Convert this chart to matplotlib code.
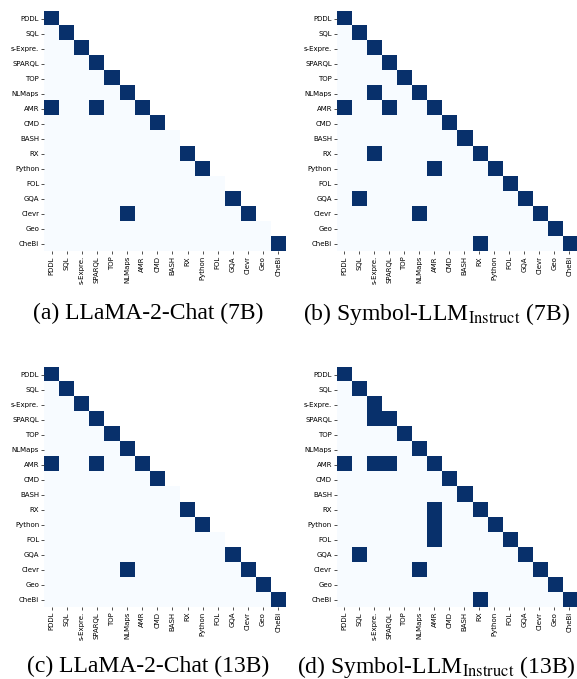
import numpy as np
import matplotlib
matplotlib.use('Agg')
import matplotlib.pyplot as plt

# task names (rows and columns share them)
tasks = ['PDDL', 'SQL', 's-Expre.', 'SPARQL', 'TOP', 'NLMaps', 'AMR', 'CMD',
         'BASH', 'RX', 'Python', 'FOL', 'GQA', 'Clevr', 'Geo', 'CheBi']

# lower triangle only, row i holds columns 0..i
llama_7b = [
    [1],
    [0, 1],
    [0, 0, 1],
    [0, 0, 0, 1],
    [0, 0, 0, 0, 1],
    [0, 0, 0, 0, 0, 1],
    [1, 0, 0, 1, 0, 0, 1],
    [0, 0, 0, 0, 0, 0, 0, 1],
    [0, 0, 0, 0, 0, 0, 0, 0, 0],
    [0, 0, 0, 0, 0, 0, 0, 0, 0, 1],
    [0, 0, 0, 0, 0, 0, 0, 0, 0, 0, 1],
    [0, 0, 0, 0, 0, 0, 0, 0, 0, 0, 0, 0],
    [0, 0, 0, 0, 0, 0, 0, 0, 0, 0, 0, 0, 1],
    [0, 0, 0, 0, 0, 1, 0, 0, 0, 0, 0, 0, 0, 1],
    [0, 0, 0, 0, 0, 0, 0, 0, 0, 0, 0, 0, 0, 0, 0],
    [0, 0, 0, 0, 0, 0, 0, 0, 0, 0, 0, 0, 0, 0, 0, 1],
]

symbol_7b = [
    [1],
    [0, 1],
    [0, 0, 1],
    [0, 0, 0, 1],
    [0, 0, 0, 0, 1],
    [0, 0, 1, 0, 0, 1],
    [1, 0, 0, 1, 0, 0, 1],
    [0, 0, 0, 0, 0, 0, 0, 1],
    [0, 0, 0, 0, 0, 0, 0, 0, 1],
    [0, 0, 1, 0, 0, 0, 0, 0, 0, 1],
    [0, 0, 0, 0, 0, 0, 1, 0, 0, 0, 1],
    [0, 0, 0, 0, 0, 0, 0, 0, 0, 0, 0, 1],
    [0, 1, 0, 0, 0, 0, 0, 0, 0, 0, 0, 0, 1],
    [0, 0, 0, 0, 0, 1, 0, 0, 0, 0, 0, 0, 0, 1],
    [0, 0, 0, 0, 0, 0, 0, 0, 0, 0, 0, 0, 0, 0, 1],
    [0, 0, 0, 0, 0, 0, 0, 0, 0, 1, 0, 0, 0, 0, 0, 1],
]

llama_13b = [
    [1],
    [0, 1],
    [0, 0, 1],
    [0, 0, 0, 1],
    [0, 0, 0, 0, 1],
    [0, 0, 0, 0, 0, 1],
    [1, 0, 0, 1, 0, 0, 1],
    [0, 0, 0, 0, 0, 0, 0, 1],
    [0, 0, 0, 0, 0, 0, 0, 0, 0],
    [0, 0, 0, 0, 0, 0, 0, 0, 0, 1],
    [0, 0, 0, 0, 0, 0, 0, 0, 0, 0, 1],
    [0, 0, 0, 0, 0, 0, 0, 0, 0, 0, 0, 0],
    [0, 0, 0, 0, 0, 0, 0, 0, 0, 0, 0, 0, 1],
    [0, 0, 0, 0, 0, 1, 0, 0, 0, 0, 0, 0, 0, 1],
    [0, 0, 0, 0, 0, 0, 0, 0, 0, 0, 0, 0, 0, 0, 1],
    [0, 0, 0, 0, 0, 0, 0, 0, 0, 0, 0, 0, 0, 0, 0, 1],
]

symbol_13b = [
    [1],
    [0, 1],
    [0, 0, 1],
    [0, 0, 1, 1],
    [0, 0, 0, 0, 1],
    [0, 0, 0, 0, 0, 1],
    [1, 0, 1, 1, 0, 0, 1],
    [0, 0, 0, 0, 0, 0, 0, 1],
    [0, 0, 0, 0, 0, 0, 0, 0, 1],
    [0, 0, 0, 0, 0, 0, 1, 0, 0, 1],
    [0, 0, 0, 0, 0, 0, 1, 0, 0, 0, 1],
    [0, 0, 0, 0, 0, 0, 1, 0, 0, 0, 0, 1],
    [0, 1, 0, 0, 0, 0, 0, 0, 0, 0, 0, 0, 1],
    [0, 0, 0, 0, 0, 1, 0, 0, 0, 0, 0, 0, 0, 1],
    [0, 0, 0, 0, 0, 0, 0, 0, 0, 0, 0, 0, 0, 0, 1],
    [0, 0, 0, 0, 0, 0, 0, 0, 0, 1, 0, 0, 0, 0, 0, 1],
]

captions = ['(a) LLaMA-2-Chat (7B)',
            r'(b) Symbol-LLM$_{\mathrm{Instruct}}$ (7B)',
            '(c) LLaMA-2-Chat (13B)',
            r'(d) Symbol-LLM$_{\mathrm{Instruct}}$ (13B)']

plt.rcParams['mathtext.fontset'] = 'stix'


def to_matrix(rows):
    n = len(tasks)
    m = np.full((n, n), np.nan)
    for i, r in enumerate(rows):
        m[i, :len(r)] = r
    return np.ma.masked_invalid(m)


fig = plt.figure(figsize=(5.77, 6.79), dpi=100)

# axes boxes in figure fraction: left, bottom, width, height
boxes = [[0.0763, 0.630, 0.419, 0.3535],
         [0.584, 0.630, 0.416, 0.3535],
         [0.0763, 0.106, 0.419, 0.3535],
         [0.584, 0.106, 0.416, 0.3535]]
cap_pos = [(0.257, 0.538), (0.757, 0.538), (0.257, 0.018), (0.757, 0.018)]

cmap = plt.get_cmap('Blues').copy()
cmap.set_bad('white')

for data, box, cap, cp in zip([llama_7b, symbol_7b, llama_13b, symbol_13b],
                              boxes, captions, cap_pos):
    ax = fig.add_axes(box)
    ax.imshow(to_matrix(data), cmap=cmap, vmin=0, vmax=1,
              aspect='auto', interpolation='nearest')
    ax.set_xticks(range(len(tasks)))
    ax.set_yticks(range(len(tasks)))
    ax.set_xticklabels(tasks, rotation=90, fontsize=5)
    ax.set_yticklabels(tasks, fontsize=5)
    ax.tick_params(length=2, width=0.6, pad=1.5, color='#333333')
    for s in ax.spines.values():
        s.set_visible(False)
    fig.text(cp[0], cp[1], cap, ha='center', va='center',
             fontsize=17, family='Liberation Serif')

fig.savefig('out.png', dpi=100)
